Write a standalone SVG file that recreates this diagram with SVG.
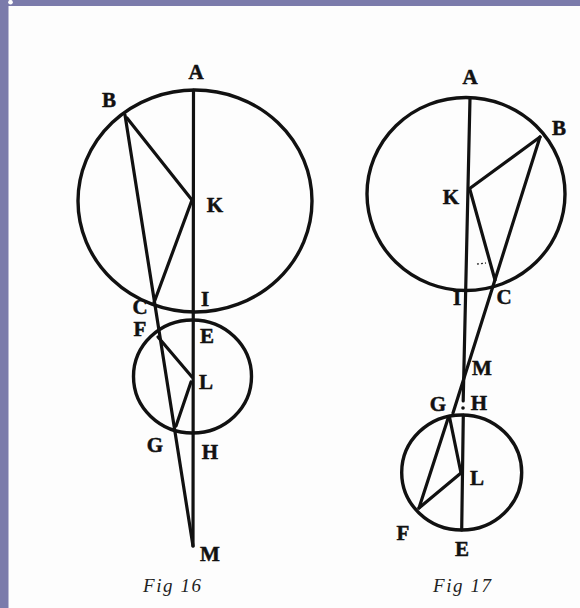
<svg xmlns="http://www.w3.org/2000/svg" width="580" height="608" viewBox="0 0 580 608">
<style>
.c{fill:none;stroke:#111;stroke-width:3.4}
.l{fill:none;stroke:#111;stroke-width:3.2;stroke-linecap:round}
.t{font-family:"Liberation Serif","DejaVu Serif",serif;font-weight:bold;font-size:21px;fill:#111;stroke:#111;stroke-width:0.5;text-anchor:middle}
.cap{font-family:"Liberation Serif","DejaVu Serif",serif;font-style:italic;font-size:19px;fill:#222}
</style>
<rect width="580" height="608" fill="#fdfdfd"/>
<rect x="0" y="0" width="580" height="6" fill="#7b7bab"/>
<rect x="0" y="0" width="8.5" height="608" fill="#7b7bab"/>
<circle cx="10.5" cy="2.2" r="2.3" fill="#fff"/>

<g id="fig16">
  <g id="fig16-circles">
    <ellipse class="c" cx="195" cy="201" rx="117" ry="111"/>
    <ellipse class="c" cx="192.5" cy="376.5" rx="59" ry="56.5"/>
  </g>
  <g id="fig16-lines">
    <line class="l" x1="193.5" y1="90" x2="193" y2="546"/>
    <line class="l" x1="125" y1="115" x2="193" y2="546"/>
    <line class="l" x1="127" y1="118" x2="192" y2="200"/>
    <line class="l" x1="192" y1="200" x2="153.5" y2="304"/>
    <line class="l" x1="158" y1="337" x2="192" y2="377"/>
    <line class="l" x1="191" y1="382" x2="176" y2="426"/>
  </g>
  <g id="fig16-labels">
    <text class="t" x="196" y="79">A</text>
    <text class="t" x="109" y="107">B</text>
    <text class="t" x="215" y="212" font-size="23">K</text>
    <text class="t" x="205" y="306">I</text>
    <text class="t" x="140" y="314" font-size="15">C</text>
    <text class="t" x="140" y="336" font-size="16">F</text>
    <text class="t" x="207" y="343" font-size="18">E</text>
    <text class="t" x="206" y="389">L</text>
    <text class="t" x="155" y="452">G</text>
    <text class="t" x="210" y="459">H</text>
    <text class="t" x="210" y="561">M</text>
  </g>
  <text class="cap" x="143" y="592" textLength="58" lengthAdjust="spacing">Fig 16</text>
</g>

<g id="fig17">
  <g id="fig17-circles">
    <ellipse class="c" cx="466" cy="194" rx="99" ry="96.5"/>
    <ellipse class="c" cx="461.7" cy="472.5" rx="60" ry="57.5"/>
  </g>
  <g id="fig17-lines">
    <line class="l" x1="470" y1="98" x2="463.2" y2="401"/>
    <circle cx="463" cy="408" r="1.8" fill="#111"/>
    <line class="l" x1="463.3" y1="415" x2="461.7" y2="530"/>
    <line class="l" x1="469" y1="189" x2="540" y2="137"/>
    <line class="l" x1="470" y1="190" x2="495" y2="280"/>
    <line class="l" x1="540" y1="137" x2="453" y2="413" stroke-width="3.6"/>
    <line class="l" x1="448.5" y1="417" x2="419" y2="508"/>
    <line class="l" x1="449.5" y1="417" x2="461" y2="473"/>
    <line class="l" x1="461" y1="473" x2="419" y2="508"/>
    <line x1="477" y1="264" x2="486" y2="263" stroke="#333" stroke-width="1.3" stroke-dasharray="2 2"/>
  </g>
  <g id="fig17-labels">
    <text class="t" x="470" y="84" font-size="18">A</text>
    <text class="t" x="559" y="135" font-size="22">B</text>
    <text class="t" x="451" y="204">K</text>
    <text class="t" x="457" y="305" font-size="21">I</text>
    <text class="t" x="504" y="304">C</text>
    <text class="t" x="482" y="375" font-size="19">M</text>
    <text class="t" x="438" y="411" font-size="19">G</text>
    <text class="t" x="479" y="410" font-size="18">H</text>
    <text class="t" x="477" y="485">L</text>
    <text class="t" x="403" y="540" font-size="22">F</text>
    <text class="t" x="462" y="556">E</text>
  </g>
  <text class="cap" x="433" y="592" textLength="58" lengthAdjust="spacing">Fig 17</text>
</g>
</svg>
